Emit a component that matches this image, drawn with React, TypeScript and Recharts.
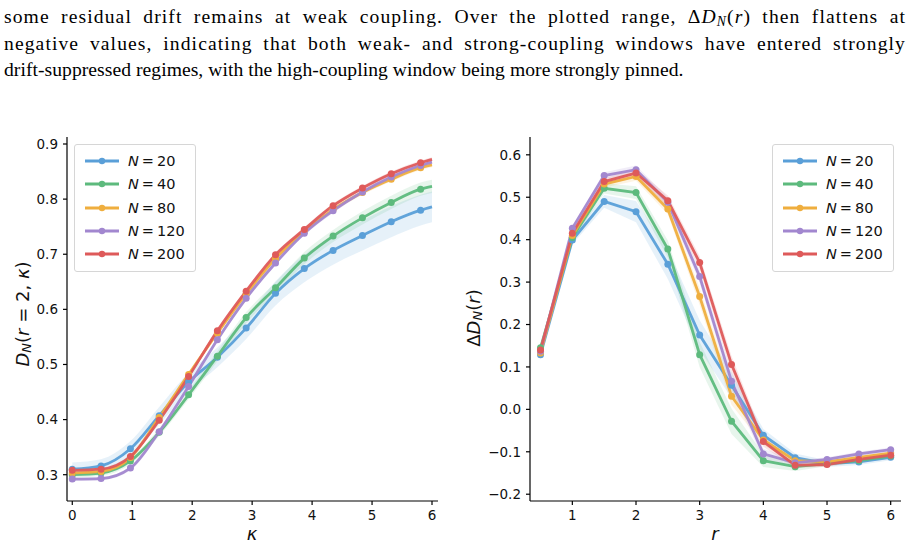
import React from "react";
import { Area, ComposedChart, Line, XAxis, YAxis } from "recharts";

// left panel: D_N(r=2, kappa)
const kappa = [0, 0.48, 0.97, 1.45, 1.94, 2.42, 2.9, 3.39, 3.87, 4.35, 4.84, 5.32, 5.81, 6.0];
const kappaMarked = [true, true, true, true, true, true, true, true, true, true, true, true, true, false];
const dN20 = [0.31, 0.316, 0.347, 0.407, 0.468, 0.513, 0.566, 0.629, 0.674, 0.707, 0.734, 0.759, 0.78, 0.786];
const dN40 = [0.3, 0.303, 0.325, 0.377, 0.445, 0.515, 0.585, 0.639, 0.693, 0.733, 0.766, 0.794, 0.818, 0.823];
const dN80 = [0.303, 0.306, 0.331, 0.404, 0.482, 0.557, 0.628, 0.692, 0.741, 0.781, 0.812, 0.836, 0.857, 0.862];
const dN120 = [0.292, 0.293, 0.312, 0.378, 0.46, 0.545, 0.62, 0.684, 0.738, 0.779, 0.813, 0.84, 0.861, 0.867];
const dN200 = [0.308, 0.31, 0.333, 0.399, 0.478, 0.561, 0.633, 0.699, 0.745, 0.788, 0.82, 0.846, 0.866, 0.872];
// half-width of shaded bands
const bN20 = [0.012, 0.012, 0.014, 0.016, 0.017, 0.018, 0.02, 0.022, 0.025, 0.026, 0.027, 0.028, 0.028, 0.028];
const bN40 = [0.005, 0.005, 0.006, 0.007, 0.008, 0.009, 0.01, 0.01, 0.011, 0.011, 0.012, 0.012, 0.012, 0.012];
const bN80 = [0.003, 0.003, 0.004, 0.004, 0.004, 0.004, 0.004, 0.004, 0.004, 0.004, 0.004, 0.004, 0.004, 0.004];
const bN120 = [0.003, 0.003, 0.004, 0.004, 0.004, 0.004, 0.004, 0.004, 0.004, 0.004, 0.004, 0.004, 0.004, 0.004];
const bN200 = [0.003, 0.003, 0.004, 0.004, 0.004, 0.004, 0.004, 0.004, 0.004, 0.004, 0.004, 0.004, 0.004, 0.004];

// right panel: Delta D_N(r)
const rVals = [0.5, 1, 1.5, 2, 2.5, 3, 3.5, 4, 4.5, 5, 5.5, 6];
const gN20 = [0.129, 0.399, 0.49, 0.466, 0.342, 0.175, 0.057, -0.061, -0.114, -0.128, -0.124, -0.113];
const gN40 = [0.145, 0.405, 0.521, 0.511, 0.378, 0.129, -0.028, -0.121, -0.135, -0.128, -0.121, -0.11];
const gN80 = [0.133, 0.41, 0.531, 0.549, 0.472, 0.266, 0.031, -0.072, -0.121, -0.124, -0.113, -0.103];
const gN120 = [0.137, 0.427, 0.551, 0.565, 0.488, 0.313, 0.066, -0.105, -0.126, -0.118, -0.105, -0.095];
const gN200 = [0.14, 0.415, 0.537, 0.557, 0.492, 0.346, 0.106, -0.076, -0.132, -0.13, -0.118, -0.108];
const hN20 = [0.005, 0.01, 0.015, 0.025, 0.035, 0.035, 0.03, 0.015, 0.01, 0.008, 0.007, 0.007];
const hN40 = [0.005, 0.008, 0.012, 0.015, 0.02, 0.03, 0.03, 0.015, 0.01, 0.006, 0.005, 0.005];
const hN80 = [0.004, 0.006, 0.008, 0.01, 0.012, 0.02, 0.02, 0.012, 0.006, 0.005, 0.005, 0.005];
const hN120 = [0.004, 0.006, 0.008, 0.01, 0.012, 0.015, 0.02, 0.012, 0.006, 0.005, 0.005, 0.005];
const hN200 = [0.004, 0.006, 0.008, 0.01, 0.012, 0.015, 0.02, 0.012, 0.006, 0.005, 0.005, 0.005];

const seriesNames = ["20", "40", "80", "120", "200"];
const colors = ["#5a9fd8", "#5dba7d", "#efae3e", "#a287cf", "#de5a5a"];

const leftVals = [dN20, dN40, dN80, dN120, dN200];
const leftBands = [bN20, bN40, bN80, bN120, bN200];
const rightVals = [gN20, gN40, gN80, gN120, gN200];
const rightBands = [hN20, hN40, hN80, hN120, hN200];

const leftRows = kappa.map((x, i) => {
  const row: any = { x, m: kappaMarked[i] };
  leftVals.forEach((s, k) => {
    row["s" + k] = s[i];
    row["b" + k] = [s[i] - leftBands[k][i], s[i] + leftBands[k][i]];
  });
  return row;
});

const rightRows = rVals.map((x, i) => {
  const row: any = { x, m: true };
  rightVals.forEach((s, k) => {
    row["s" + k] = s[i];
    row["b" + k] = [s[i] - rightBands[k][i], s[i] + rightBands[k][i]];
  });
  return row;
});

const FONT = "'DejaVu Sans', sans-serif";
const SERIF = "'Liberation Serif', serif";
const tickStyle = { fill: "#111", fontSize: 13.5, fontFamily: FONT };
const fmt = (v: number) => (v < 0 ? "\u2212" + Math.abs(v).toFixed(1) : v.toFixed(1));

const dotFor = (color: string) => (p: any) => {
  if (!p.payload || !p.payload.m) return <g key={"n" + p.index} />;
  return <circle key={"d" + p.index} cx={p.cx} cy={p.cy} r={3.5} fill={color} stroke="none" />;
};

function Panel(props: {
  rows: any[];
  xDomain: [number, number];
  yDomain: [number, number];
  xTicks: number[];
  yTicks: number[];
  width: number;
  margin: any;
  yWidth: number;
  curve: "linear" | "monotone";
}) {
  const { rows, xDomain, yDomain, xTicks, yTicks, width, margin, yWidth, curve } = props;
  return (
    <ComposedChart width={width} height={427} data={rows} margin={margin}>
      <XAxis
        dataKey="x"
        type="number"
        domain={xDomain}
        ticks={xTicks}
        allowDataOverflow
        tick={tickStyle}
        tickSize={4}
        tickMargin={5}
        height={30}
        stroke="#000"
        strokeWidth={1.2}
      />
      <XAxis xAxisId="top" orientation="top" type="number" domain={xDomain} allowDataOverflow tick={false} tickLine={false} height={0} stroke="#000" strokeWidth={1.2} />
      <YAxis
        type="number"
        domain={yDomain}
        ticks={yTicks}
        allowDataOverflow
        tickFormatter={fmt}
        tick={tickStyle}
        tickSize={4}
        tickMargin={5}
        width={yWidth}
        stroke="#000"
        strokeWidth={1.2}
      />
      <YAxis yAxisId="right" orientation="right" type="number" domain={yDomain} allowDataOverflow tick={false} tickLine={false} width={0} stroke="#000" strokeWidth={1.2} />
      {colors.map((c, k) => (
        <Area
          key={"a" + k}
          dataKey={"b" + k}
          type={curve}
          stroke="none"
          fill={c}
          fillOpacity={0.15}
          isAnimationActive={false}
          activeDot={false}
        />
      ))}
      {colors.map((c, k) => (
        <Line
          key={"l" + k}
          dataKey={"s" + k}
          type={curve}
          stroke={c}
          strokeWidth={2.8}
          strokeOpacity={0.95}
          dot={dotFor(c)}
          activeDot={false}
          isAnimationActive={false}
        />
      ))}
    </ComposedChart>
  );
}

function LegendBox({ left, top }: { left: number; top: number }) {
  return (
    <div
      style={{
        position: "absolute",
        left,
        top,
        width: 120,
        height: 126,
        border: "1px solid #d6d6d6",
        borderRadius: 3,
        background: "rgba(255,255,255,0.85)",
        fontFamily: FONT,
        fontSize: 14.5,
        color: "#111",
      }}
    >
      {seriesNames.map((n, k) => (
        <div key={n} style={{ position: "absolute", left: 9, top: 6 + k * 23.3, height: 20, display: "flex", alignItems: "center" }}>
          <svg width={36} height={20}>
            <line x1={1} y1={10} x2={35} y2={10} stroke={colors[k]} strokeWidth={2.8} />
            <circle cx={18} cy={10} r={3.2} fill={colors[k]} />
          </svg>
          <span style={{ marginLeft: 8, whiteSpace: "nowrap" }}>
            <i>N</i>
            <span style={{ margin: "0 3px" }}>=</span>
            {n}
          </span>
        </div>
      ))}
    </div>
  );
}

const lineStyle = (top: number, justify: boolean): React.CSSProperties => ({
  position: "absolute",
  left: 4,
  top,
  width: 902,
  fontFamily: SERIF,
  fontSize: 19.6,
  lineHeight: "24px",
  color: "#000",
  textAlign: justify ? "justify" : "left",
  textAlignLast: justify ? "justify" : "left",
  letterSpacing: justify ? 1.1 : 0.05,
});

export default function App() {
  return (
    <div style={{ position: "absolute", left: 0, top: 0, width: 914, height: 547, background: "#fff", overflow: "hidden" }}>
      <div style={lineStyle(5, true)}>
        some residual drift remains at weak coupling. Over the plotted range, Δ<i>D</i>
        <i style={{ fontSize: "0.7em", verticalAlign: "-0.25em" }}>N</i>(<i>r</i>) then flattens at
      </div>
      <div style={lineStyle(31.5, true)}>
        negative values, indicating that both weak- and strong-coupling windows have entered strongly
      </div>
      <div style={lineStyle(58, false)}>
        drift-suppressed regimes, with the high-coupling window being more strongly pinned.
      </div>

      <div style={{ position: "absolute", left: 0, top: 120 }}>
        <Panel
          rows={leftRows}
          xDomain={[-0.088, 6.1]}
          yDomain={[0.2523, 0.9127]}
          xTicks={[0, 1, 2, 3, 4, 5, 6]}
          yTicks={[0.3, 0.4, 0.5, 0.6, 0.7, 0.8, 0.9]}
          width={450}
          margin={{ top: 17, right: 12, bottom: 16, left: 7 }}
          yWidth={60}
          curve="monotone"
        />
      </div>
      <div style={{ position: "absolute", left: 460, top: 120 }}>
        <Panel
          rows={rightRows}
          xDomain={[0.335, 6.162]}
          yDomain={[-0.216, 0.642]}
          xTicks={[1, 2, 3, 4, 5, 6]}
          yTicks={[-0.2, -0.1, 0, 0.1, 0.2, 0.3, 0.4, 0.5, 0.6]}
          width={454}
          margin={{ top: 17, right: 13, bottom: 16, left: 8 }}
          yWidth={62}
          curve="linear"
        />
      </div>

      <LegendBox left={74} top={144} />
      <LegendBox left={772} top={144} />

      <svg width={914} height={547} style={{ position: "absolute", left: 0, top: 0, pointerEvents: "none" }} fontFamily={FONT} fontSize={18} fill="#111">
        <text x={252} y={533} textAnchor="middle" dominantBaseline="central" fontStyle="italic">κ</text>
        <text x={715} y={533} textAnchor="middle" dominantBaseline="central" fontStyle="italic">r</text>
        <text transform="translate(22,314) rotate(-90)" textAnchor="middle" dominantBaseline="central">
          <tspan fontStyle="italic">D</tspan>
          <tspan fontStyle="italic" fontSize={13} dy={3.5}>N</tspan>
          <tspan dy={-3.5}>(</tspan>
          <tspan fontStyle="italic">r</tspan>
          <tspan> = 2, </tspan>
          <tspan fontStyle="italic">κ</tspan>
          <tspan>)</tspan>
        </text>
        <text transform="translate(473,318) rotate(-90)" textAnchor="middle" dominantBaseline="central">
          <tspan>Δ</tspan>
          <tspan fontStyle="italic">D</tspan>
          <tspan fontStyle="italic" fontSize={13} dy={3.5}>N</tspan>
          <tspan dy={-3.5}>(</tspan>
          <tspan fontStyle="italic">r</tspan>
          <tspan>)</tspan>
        </text>
      </svg>
    </div>
  );
}
